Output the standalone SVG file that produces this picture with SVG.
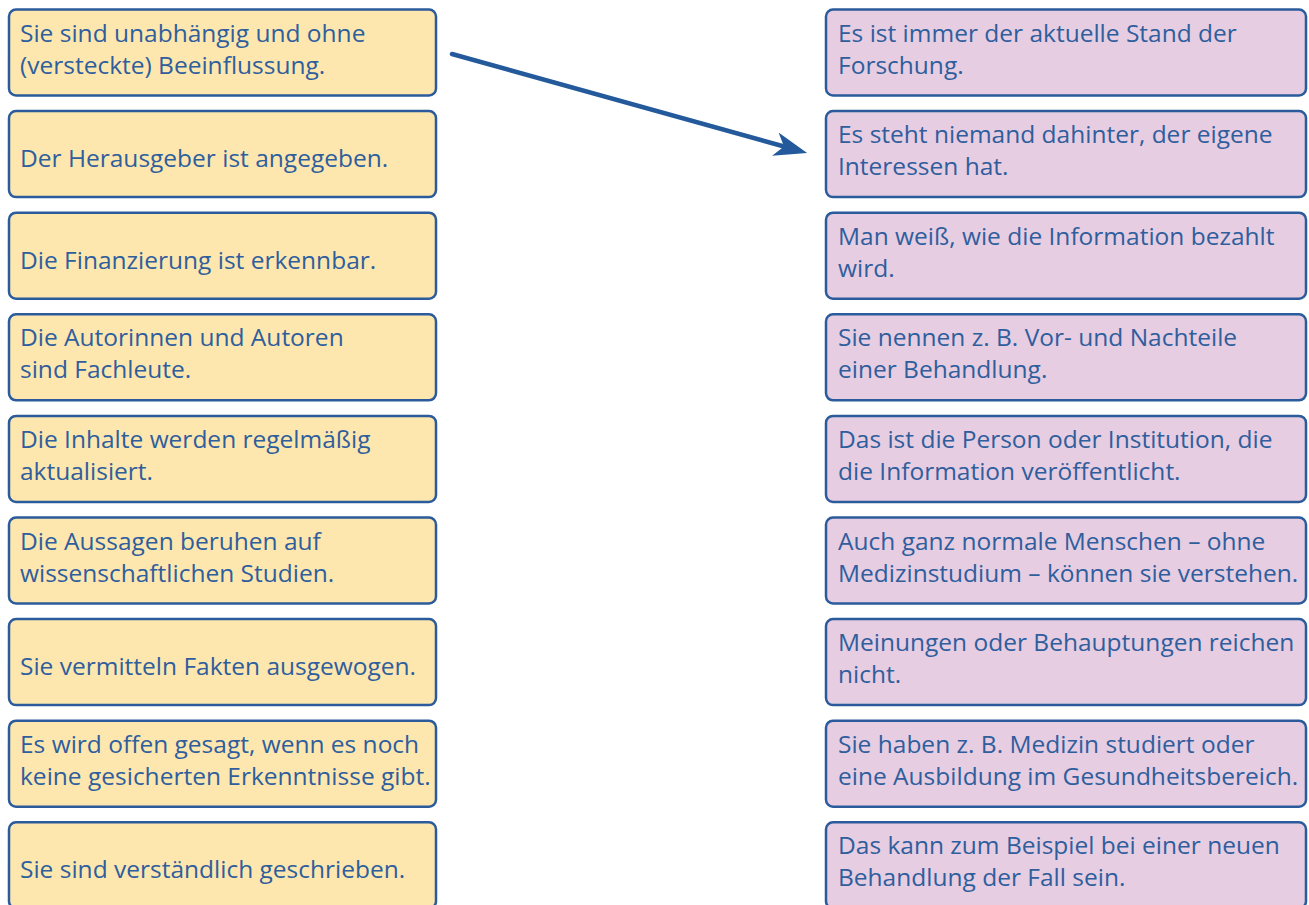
<svg xmlns="http://www.w3.org/2000/svg" width="1309" height="905" viewBox="0 0 1309 905">
<style>
.box rect{stroke:#2b5b9b;stroke-width:2.5}
.l rect{fill:#fde7af}
.r rect{fill:#e6cde2}
text{font-family:"Open Sans","Noto Sans","Liberation Sans",sans-serif;font-size:24.5px;fill:#2f5e9d}
.conn{stroke:#245a9b;stroke-width:4.5;fill:none;stroke-linecap:round}
</style>
<defs>
<marker id="ah" markerUnits="userSpaceOnUse" viewBox="-33 -13 34 26" markerWidth="34" markerHeight="26" refX="-24" refY="0" orient="auto">
<path d="M0,0 L-33,-12 L-24,0 L-33,12 Z" fill="#245a9b"/>
</marker>
</defs>
<rect width="1309" height="905" fill="#ffffff"/>
<g id="left-1" class="box l"><rect x="9" y="9.5" width="427" height="86" rx="7"/><text x="20" y="41.5">Sie sind unabhängig und ohne</text><text x="20" y="73.5">(versteckte) Beeinflussung.</text></g>
<g id="left-2" class="box l"><rect x="9" y="111.1" width="427" height="86" rx="7"/><text x="20" y="167">Der Herausgeber ist angegeben.</text></g>
<g id="left-3" class="box l"><rect x="9" y="212.7" width="427" height="86" rx="7"/><text x="20" y="268.6">Die Finanzierung ist erkennbar.</text></g>
<g id="left-4" class="box l"><rect x="9" y="314.3" width="427" height="86" rx="7"/><text x="20" y="346.3">Die Autorinnen und Autoren</text><text x="20" y="378.3">sind Fachleute.</text></g>
<g id="left-5" class="box l"><rect x="9" y="415.9" width="427" height="86" rx="7"/><text x="20" y="447.9">Die Inhalte werden regelmäßig</text><text x="20" y="479.9">aktualisiert.</text></g>
<g id="left-6" class="box l"><rect x="9" y="517.5" width="427" height="86" rx="7"/><text x="20" y="549.5">Die Aussagen beruhen auf</text><text x="20" y="581.5">wissenschaftlichen Studien.</text></g>
<g id="left-7" class="box l"><rect x="9" y="619.1" width="427" height="86" rx="7"/><text x="20" y="675">Sie vermitteln Fakten ausgewogen.</text></g>
<g id="left-8" class="box l"><rect x="9" y="720.7" width="427" height="86" rx="7"/><text x="20" y="752.7">Es wird offen gesagt, wenn es noch</text><text x="20" y="784.7">keine gesicherten Erkenntnisse gibt.</text></g>
<g id="left-9" class="box l"><rect x="9" y="822.3" width="427" height="86" rx="7"/><text x="20" y="878">Sie sind verständlich geschrieben.</text></g>

<g id="right-1" class="box r"><rect x="826" y="9.5" width="480" height="86" rx="7"/><text x="838" y="41.5">Es ist immer der aktuelle Stand der</text><text x="838" y="73.5">Forschung.</text></g>
<g id="right-2" class="box r"><rect x="826" y="111.1" width="480" height="86" rx="7"/><text x="838" y="143.1">Es steht niemand dahinter, der eigene</text><text x="838" y="175.1">Interessen hat.</text></g>
<g id="right-3" class="box r"><rect x="826" y="212.7" width="480" height="86" rx="7"/><text x="838" y="244.7">Man weiß, wie die Information bezahlt</text><text x="838" y="276.7">wird.</text></g>
<g id="right-4" class="box r"><rect x="826" y="314.3" width="480" height="86" rx="7"/><text x="838" y="346.3">Sie nennen z. B. Vor- und Nachteile</text><text x="838" y="378.3">einer Behandlung.</text></g>
<g id="right-5" class="box r"><rect x="826" y="415.9" width="480" height="86" rx="7"/><text x="838" y="447.9">Das ist die Person oder Institution, die</text><text x="838" y="479.9">die Information veröffentlicht.</text></g>
<g id="right-6" class="box r"><rect x="826" y="517.5" width="480" height="86" rx="7"/><text x="838" y="549.5">Auch ganz normale Menschen – ohne</text><text x="838" y="581.5">Medizinstudium – können sie verstehen.</text></g>
<g id="right-7" class="box r"><rect x="826" y="619.1" width="480" height="86" rx="7"/><text x="838" y="651.1">Meinungen oder Behauptungen reichen</text><text x="838" y="683.1">nicht.</text></g>
<g id="right-8" class="box r"><rect x="826" y="720.7" width="480" height="86" rx="7"/><text x="838" y="752.7">Sie haben z. B. Medizin studiert oder</text><text x="838" y="784.7">eine Ausbildung im Gesundheitsbereich.</text></g>
<g id="right-9" class="box r"><rect x="826" y="822.3" width="480" height="86" rx="7"/><text x="838" y="854.3">Das kann zum Beispiel bei einer neuen</text><text x="838" y="886.3">Behandlung der Fall sein.</text></g>

<g id="connectors">
<path class="conn" d="M452,54 L784,146.5" marker-end="url(#ah)"/>
</g>
</svg>
